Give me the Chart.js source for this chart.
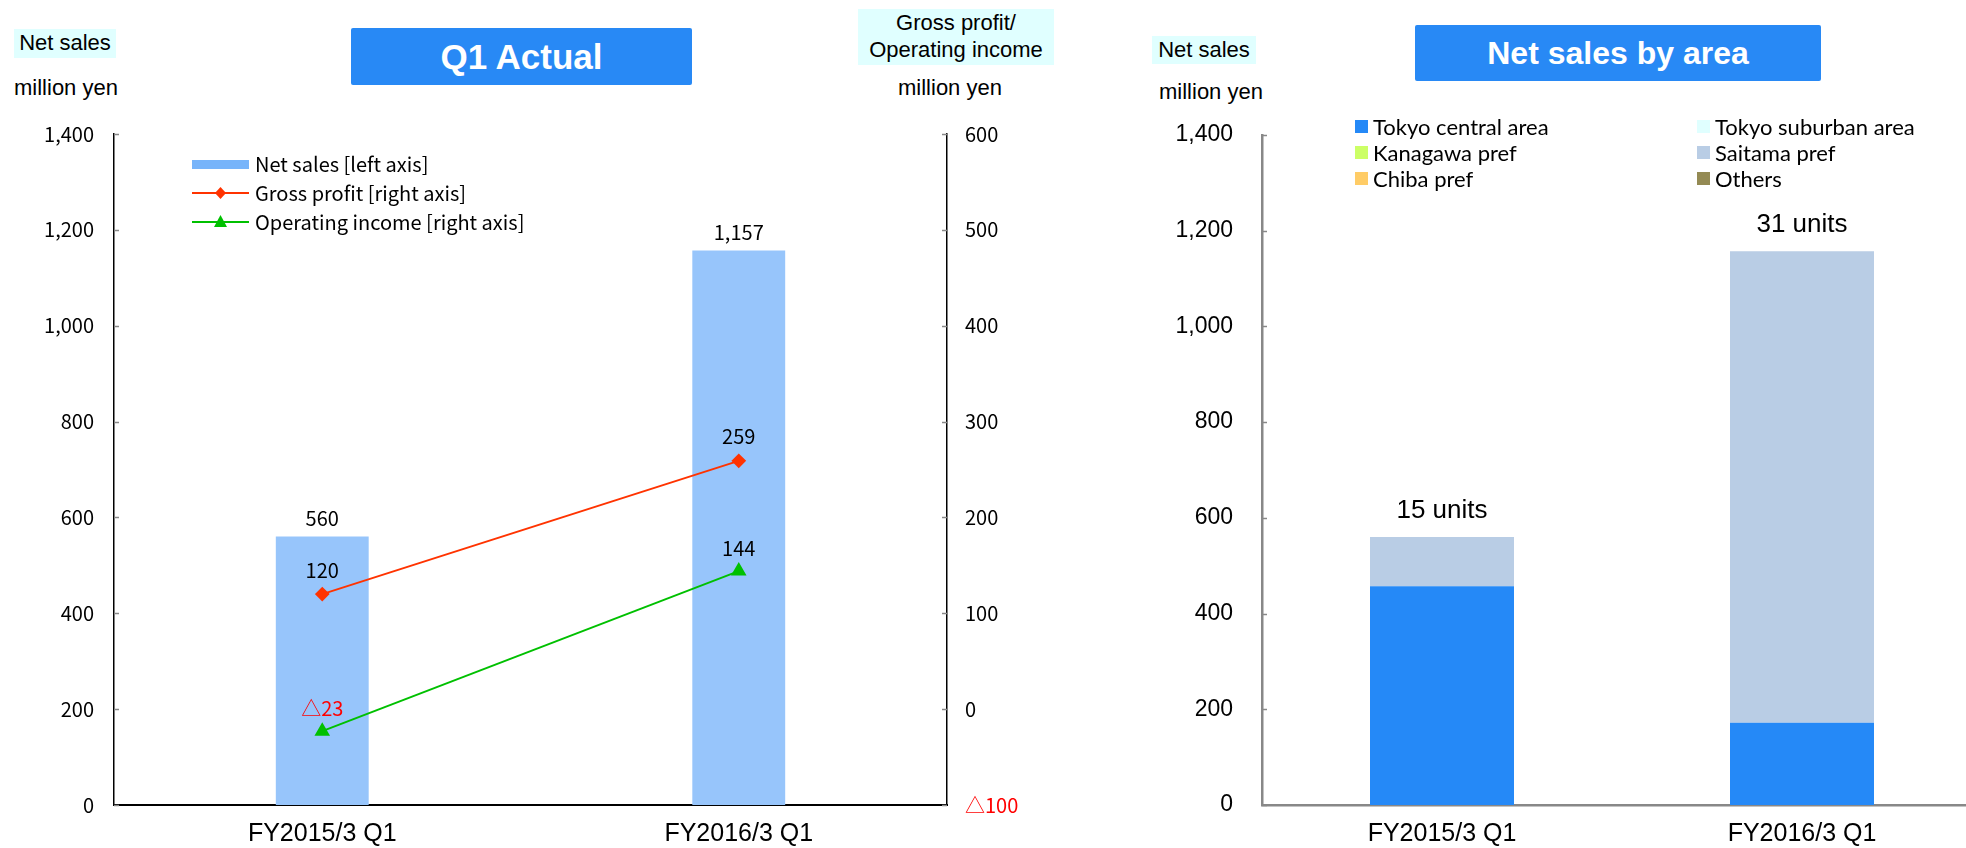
<!DOCTYPE html>
<html>
<head>
<meta charset="utf-8">
<script src="https://cdn.jsdelivr.net/npm/chart.js@4.4.0/dist/chart.umd.min.js"></script>
<style>
body { margin:0; width:1966px; height:848px; overflow:hidden; background:#fff; position:relative; font-family:"Liberation Sans", Arial, sans-serif; color:#000; }
.abs { position:absolute; }
.unit-bg { background:#E0FFFF; font-size:22px; line-height:28px; text-align:center; }
.unit { font-size:22px; line-height:26px; }
.title { background:#2889F5; color:#fff; font-weight:bold; text-align:center; border-radius:2px; }
#legend1 { left:192px; top:149px; font-family:"Noto Sans CJK JP", sans-serif; font-size:20px; }
#legend1 .row { height:29px; display:flex; align-items:center; }
#legend1 canvas { margin-right:6px; }
#legend2 { left:1355px; top:113px; display:grid; grid-template-columns:342px auto; font-family:Lato, "Noto Sans", sans-serif; font-size:22px; }
#legend2 .row { height:26px; display:flex; align-items:center; }
#legend2 .sw { width:13px; height:13px; margin-right:5px; }
</style>
</head>
<body>
<div class="abs unit-bg" style="left:14px;top:29px;width:102px;height:29px;">Net sales</div>
<div class="abs unit" style="left:14px;top:75px;">million yen</div>
<div class="abs title" style="left:351px;top:28px;width:341px;height:57px;line-height:57px;font-size:35px;">Q1 Actual</div>
<div class="abs unit-bg" style="left:858px;top:9px;width:196px;height:56px;line-height:27px;font-size:22px;">Gross profit/<br>Operating income</div>
<div class="abs unit" style="left:898px;top:75px;">million yen</div>

<div class="abs unit-bg" style="left:1152px;top:36px;width:104px;height:28px;">Net sales</div>
<div class="abs unit" style="left:1159px;top:79px;">million yen</div>
<div class="abs title" style="left:1415px;top:25px;width:406px;height:56px;line-height:56px;font-size:32px;">Net sales by area</div>

<canvas id="chart1" class="abs" style="left:0;top:0;" width="1100" height="848"></canvas>
<canvas id="chart2" class="abs" style="left:1100px;top:0;" width="900" height="848"></canvas>

<div id="legend1" class="abs"></div>
<div id="legend2" class="abs"></div>

<script>
// data
const categories = ['FY2015/3 Q1', 'FY2016/3 Q1'];
const netSales = [560, 1157];
const grossProfit = [120, 259];
const operatingIncome = [-23, 144];

const areaNames = ['Tokyo central area', 'Tokyo suburban area', 'Kanagawa pref', 'Saitama pref', 'Chiba pref', 'Others'];
const areaColors = ['#2589F7', '#E0FFFF', '#CCFF66', '#B9CDE5', '#FFCC66', '#948A54'];
const tokyoCentral = [457, 172];
const tokyoSuburban = [0, 0];
const kanagawa = [0, 0];
const saitama = [103, 985];
const chiba = [0, 0];
const others = [0, 0];
const unitCounts = [15, 31];

const salesMax = 1400, salesStep = 200;
const profitMin = -100, profitMax = 600, profitStep = 100;

const cjk = '"Noto Sans CJK JP", sans-serif';
const arial = '"Liberation Sans", Arial, sans-serif';

function fmt(v){
    const s = Math.abs(v).toLocaleString('en-US');
    return v < 0 ? '\u25B3' + s : s;
}

// small ticks drawn on the inner side of the y axes
const innerTicks = {
    id: 'innerTicks',
    afterDraw(chart, args, opts){
        const ctx = chart.ctx;
        const area = chart.chartArea;
        ctx.save();
        ctx.strokeStyle = opts.color;
        ctx.lineWidth = 1.5;
        Object.values(chart.scales).forEach(function(s){
            if (s.axis !== 'y') return;
            const left = s.position === 'left';
            const x = left ? area.left : area.right;
            s.ticks.forEach(function(t){
                const y = Math.round(s.getPixelForValue(t.value)) + 0.5;
                ctx.beginPath();
                ctx.moveTo(x, y);
                ctx.lineTo(x + (left ? opts.length : -opts.length), y);
                ctx.stroke();
            });
        });
        ctx.restore();
    }
};

// numbers above bars and points
const valueLabels = {
    id: 'valueLabels',
    afterDatasetsDraw(chart){
        const ctx = chart.ctx;
        ctx.save();
        ctx.font = '20px ' + cjk;
        ctx.textAlign = 'center';
        ctx.textBaseline = 'middle';
        chart.data.datasets.forEach(function(ds, i){
            chart.getDatasetMeta(i).data.forEach(function(el, j){
                const v = ds.data[j];
                ctx.fillStyle = v < 0 ? '#FF0000' : '#000';
                ctx.fillText(fmt(v), el.x, el.y - ds.labelGap);
            });
        });
        ctx.restore();
    }
};

// "xx units" above each stacked column
const unitLabels = {
    id: 'unitLabels',
    afterDatasetsDraw(chart){
        const ctx = chart.ctx;
        const last = chart.getDatasetMeta(chart.data.datasets.length - 1);
        ctx.save();
        ctx.font = '26px ' + arial;
        ctx.fillStyle = '#000';
        ctx.textAlign = 'center';
        ctx.textBaseline = 'middle';
        last.data.forEach(function(el, j){
            ctx.fillText(unitCounts[j] + ' units', el.x, el.y - 26);
        });
        ctx.restore();
    }
};

const chart1 = new Chart(document.getElementById('chart1'), {
    data: {
        labels: categories,
        datasets: [
            {
                type: 'bar',
                label: 'Net sales [left axis]',
                data: netSales,
                yAxisID: 'y',
                backgroundColor: '#97C5FB',
                barPercentage: 0.223,
                categoryPercentage: 1,
                order: 1,
                labelGap: 18
            },
            {
                type: 'line',
                label: 'Gross profit [right axis]',
                data: grossProfit,
                yAxisID: 'y1',
                borderColor: '#FF3300',
                backgroundColor: '#FF3300',
                borderWidth: 2,
                pointStyle: 'rectRot',
                pointRadius: 6,
                order: 0,
                labelGap: 24
            },
            {
                type: 'line',
                label: 'Operating income [right axis]',
                data: operatingIncome,
                yAxisID: 'y1',
                borderColor: '#00C000',
                backgroundColor: '#00C000',
                borderWidth: 2,
                pointStyle: 'triangle',
                pointRadius: 7,
                order: 0,
                labelGap: 23
            }
        ]
    },
    options: {
        responsive: false,
        animation: false,
        layout: { padding: { top: 134 } },
        plugins: {
            legend: { display: false },
            tooltip: { enabled: false },
            innerTicks: { color: '#888', length: 5 }
        },
        scales: {
            x: {
                grid: { display: false, drawTicks: false },
                border: { color: '#000', width: 2 },
                ticks: { color: '#000', padding: 14, font: { family: arial, size: 25 } },
                afterFit: function(s){ s.height = 43; }
            },
            y: {
                position: 'left',
                min: 0,
                max: salesMax,
                grid: { display: false, drawTicks: false },
                border: { color: '#000', width: 1.5 },
                ticks: { stepSize: salesStep, color: '#000', padding: 20, font: { family: cjk, size: 20 }, callback: fmt },
                afterFit: function(s){ s.width = 114; }
            },
            y1: {
                position: 'right',
                min: profitMin,
                max: profitMax,
                grid: { display: false, drawTicks: false },
                border: { color: '#000', width: 1.5 },
                ticks: {
                    stepSize: profitStep,
                    padding: 18,
                    font: { family: cjk, size: 20 },
                    color: function(ctx){ return ctx.tick.value < 0 ? '#FF0000' : '#000'; },
                    callback: fmt
                },
                afterFit: function(s){ s.width = 153; }
            }
        }
    },
    plugins: [innerTicks, valueLabels]
});

const areaData = [tokyoCentral, tokyoSuburban, kanagawa, saitama, chiba, others];

const chart2 = new Chart(document.getElementById('chart2'), {
    type: 'bar',
    data: {
        labels: categories,
        datasets: areaNames.map(function(name, i){
            return {
                label: name,
                data: areaData[i],
                backgroundColor: areaColors[i],
                barPercentage: 0.4,
                categoryPercentage: 1
            };
        })
    },
    options: {
        responsive: false,
        animation: false,
        layout: { padding: { top: 135, right: 18 } },
        plugins: {
            legend: { display: false },
            tooltip: { enabled: false },
            innerTicks: { color: '#888', length: 5 }
        },
        scales: {
            x: {
                stacked: true,
                grid: { display: false, drawTicks: false },
                border: { color: '#888', width: 2.5 },
                ticks: { color: '#000', padding: 14, font: { family: arial, size: 25 } },
                afterFit: function(s){ s.height = 43; }
            },
            y: {
                stacked: true,
                min: 0,
                max: salesMax,
                grid: { display: false, drawTicks: false },
                border: { color: '#888', width: 2.5 },
                ticks: { stepSize: salesStep, color: '#000', padding: 29, font: { family: arial, size: 23 }, callback: fmt },
                afterFit: function(s){ s.width = 162; }
            }
        }
    },
    plugins: [innerTicks, unitLabels]
});

// legend of the left chart, with line + marker swatches
function makeSwatch(ds){
    const cv = document.createElement('canvas');
    cv.width = 57;
    cv.height = 18;
    const c = cv.getContext('2d');
    if (ds.type === 'bar'){
        c.fillStyle = '#77B4FA';
        c.fillRect(0, 5, 57, 9);
    }else{
        c.strokeStyle = ds.borderColor;
        c.lineWidth = 2;
        c.beginPath();
        c.moveTo(0, 9);
        c.lineTo(57, 9);
        c.stroke();
        c.fillStyle = ds.backgroundColor;
        c.beginPath();
        if (ds.pointStyle === 'rectRot'){
            c.moveTo(28.5, 3); c.lineTo(34, 9); c.lineTo(28.5, 15); c.lineTo(23, 9);
        }else{
            c.moveTo(28.5, 2); c.lineTo(35, 14); c.lineTo(22, 14);
        }
        c.closePath();
        c.fill();
    }
    return cv;
}

const legend1 = document.getElementById('legend1');
chart1.data.datasets.forEach(function(ds){
    const row = document.createElement('div');
    row.className = 'row';
    row.appendChild(makeSwatch(ds));
    const span = document.createElement('span');
    span.innerText = ds.label;
    row.appendChild(span);
    legend1.appendChild(row);
});

const legend2 = document.getElementById('legend2');
chart2.data.datasets.forEach(function(ds){
    const row = document.createElement('div');
    row.className = 'row';
    const sw = document.createElement('div');
    sw.className = 'sw';
    sw.style.backgroundColor = ds.backgroundColor;
    row.appendChild(sw);
    const span = document.createElement('span');
    span.innerText = ds.label;
    row.appendChild(span);
    legend2.appendChild(row);
});
</script>
</body>
</html>
